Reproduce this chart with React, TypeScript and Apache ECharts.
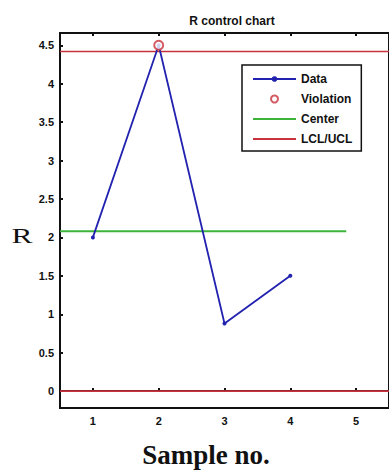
import React, { useEffect, useRef } from "react";
import * as echarts from "echarts";

const samples = [1, 2, 3, 4];
const rValues = [2.0, 4.5, 0.88, 1.5];
const violationSamples = [2];
const violationValues = [4.5];
const centerValue = 2.08;
const centerSpan = [0.5, 4.85];
const lcl = 0;
const ucl = 4.42;
const limitSpan = [0.5, 5.6];
const xTicks = [1, 2, 3, 4, 5];
const yTicks = [0, 0.5, 1, 1.5, 2, 2.5, 3, 3.5, 4, 4.5];

export default function App() {
  const ref = useRef<HTMLDivElement>(null);
  useEffect(() => {
    document.body.style.margin = "0";
    const chart = echarts.init(ref.current!, null, { renderer: "svg" });
    const font = "Liberation Sans, Arial, sans-serif";
    const serif = "Liberation Serif, Times New Roman, serif";
    const tickLabel = { fontFamily: font, fontWeight: "bold" as const, fontSize: 11, color: "#111" };
    const red = "#c8323c";
    const green = "#3cb43c";
    const blue = "#2222b0";
    chart.setOption({
      animation: false,
      backgroundColor: "#fff",
      title: {
        text: "R control chart",
        left: 227,
        top: 10,
        textAlign: "center",
        textStyle: { fontFamily: font, fontWeight: "bold", fontSize: 12, color: "#111" },
      },
      graphic: [
        {
          type: "text",
          x: 22,
          y: 236,
          scaleX: 1.5,
          style: { text: "R", fontFamily: serif, fontSize: 21, fill: "#111", align: "center", verticalAlign: "middle" },
        },
        {
          type: "text",
          x: 206,
          y: 455,
          style: { text: "Sample no.", fontFamily: serif, fontSize: 27, fontWeight: "bold", fill: "#111", align: "center", verticalAlign: "middle" },
        },
      ],
      grid: { left: 60, top: 33, right: -6, bottom: 67, show: true, borderColor: "#111", borderWidth: 2, backgroundColor: "transparent" },
      legend: {
        orient: "vertical",
        left: 242,
        top: 65,
        itemWidth: 43,
        itemHeight: 7,
        itemGap: 6,
        padding: [7, 9, 5, 10],
        borderColor: "#111",
        borderWidth: 1.5,
        backgroundColor: "#fff",
        textStyle: { fontFamily: font, fontWeight: "bold", fontSize: 12, color: "#111", lineHeight: 14 },
        data: [
          { name: "Data" },
          { name: "Violation" },
          { name: "Center", itemStyle: { opacity: 0 } },
          { name: "LCL/UCL", itemStyle: { opacity: 0 } },
        ],
      },
      xAxis: [
        {
          type: "value",
          min: 0.5,
          max: 5.5,
          splitLine: { show: false },
          axisLine: { lineStyle: { color: "#111", width: 2 } },
          axisTick: { inside: true, length: 3, customValues: xTicks, lineStyle: { color: "#111", width: 2 } },
          axisLabel: { ...tickLabel, customValues: xTicks, margin: 7 },
        },
        {
          type: "value",
          position: "top",
          min: 0.5,
          max: 5.5,
          splitLine: { show: false },
          axisLine: { lineStyle: { color: "#111", width: 2 } },
          axisTick: { inside: true, length: 3, customValues: xTicks, lineStyle: { color: "#111", width: 2 } },
          axisLabel: { show: false },
        },
      ],
      yAxis: {
        type: "value",
        min: -0.22,
        max: 4.66,
        splitLine: { show: false },
        axisLine: { lineStyle: { color: "#111", width: 2 } },
        axisTick: { inside: true, length: 3, customValues: yTicks, lineStyle: { color: "#111", width: 2 } },
        axisLabel: { ...tickLabel, customValues: yTicks, margin: 6 },
      },
      series: [
        {
          name: "LCL/UCL",
          type: "line",
          symbol: "none",
          color: red,
          lineStyle: { color: red, width: 1.6 },
          data: limitSpan.map((x) => [x, ucl]),
        },
        {
          name: "LCL/UCL",
          type: "line",
          symbol: "none",
          color: red,
          lineStyle: { color: red, width: 1.6 },
          data: limitSpan.map((x) => [x, lcl]),
        },
        {
          name: "Center",
          type: "line",
          symbol: "none",
          color: green,
          lineStyle: { color: green, width: 2 },
          data: centerSpan.map((x) => [x, centerValue]),
        },
        {
          name: "Data",
          type: "line",
          symbol: "circle",
          symbolSize: 4,
          color: blue,
          lineStyle: { color: blue, width: 1.8 },
          itemStyle: { color: blue },
          data: samples.map((s, i) => [s, rValues[i]]),
          z: 3,
        },
        {
          name: "Violation",
          type: "scatter",
          symbol: "emptyCircle",
          symbolSize: 9,
          color: red,
          itemStyle: { color: red, borderColor: red, borderWidth: 2 },
          data: violationSamples.map((s, i) => [s, violationValues[i]]),
          z: 5,
        },
      ],
    });
    return () => chart.dispose();
  }, []);
  return <div ref={ref} style={{ width: 389, height: 475 }} />;
}
